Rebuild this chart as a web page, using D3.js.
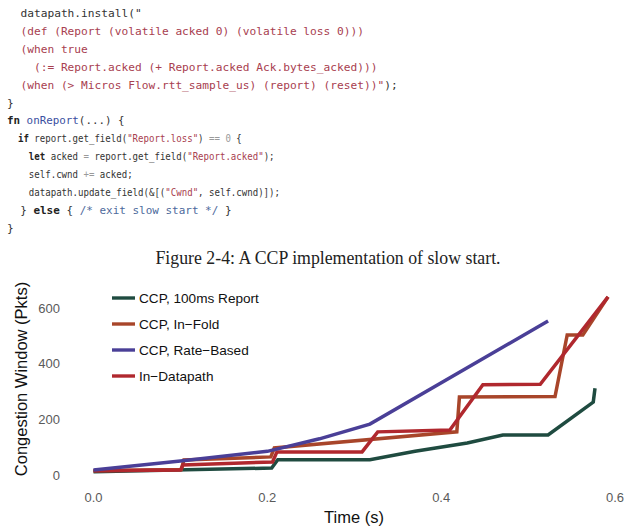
<!DOCTYPE html>
<html>
<head>
<meta charset="utf-8">
<script src="https://cdn.jsdelivr.net/npm/d3@7/dist/d3.min.js"></script>
<style>
  body { margin: 0; background: #fff; }
  svg { display: block; }
  .code text { font-family: "DejaVu Sans Mono", monospace; font-size: 11.2px; white-space: pre; }
  .tick-label { font-family: "Liberation Sans", Arial, sans-serif; font-size: 13px; fill: #5a5a5a; }
</style>
</head>
<body>
<script>
// code listing above the figure, tokens tagged by highlight class
const codeLines = [
    [["  datapath.install(", "n"], ["\"", "n"]],
    [["  (def (Report (volatile acked 0) (volatile loss 0)))", "s"]],
    [["  (when true", "s"]],
    [["    (:= Report.acked (+ Report.acked Ack.bytes_acked)))", "s"]],
    [["  (when (> Micros Flow.rtt_sample_us) (report) (reset))\"", "s"], [");", "n"]],
    [["}", "n"]],
    [["fn", "k"], [" ", "n"], ["onReport", "f"], ["(...) {", "n"]],
    [["  ", "n"], ["if", "k"], [" report.get_field(", "n"], ["\"Report.loss\"", "s"], [") ", "n"], ["==", "o"], [" ", "n"], ["0", "o"], [" {", "n"]],
    [["    ", "n"], ["let", "k"], [" acked ", "n"], ["=", "o"], [" report.get_field(", "n"], ["\"Report.acked\"", "s"], [");", "n"]],
    [["    self.cwnd ", "n"], ["+=", "o"], [" acked;", "n"]],
    [["    datapath.update_field(&[(", "n"], ["\"Cwnd\"", "s"], [", self.cwnd)]);", "n"]],
    [["  } ", "n"], ["else", "k"], [" { ", "n"], ["/* exit slow start */", "c"], [" }", "n"]],
    [["}", "n"]]
];
const codeScale = [1, 1, 1, 1, 1, 1, 0.97, 0.81, 0.81, 0.81, 0.81, 0.98, 1];
const caption = "Figure 2-4: A CCP implementation of slow start.";

// chart data (time in s, cwnd in packets)
const seriesNames = ["CCP, 100ms Report", "CCP, In\u2212Fold", "CCP, Rate\u2212Based", "In\u2212Datapath"];

const reportT = [0, 0.205, 0.212, 0.318, 0.37, 0.43, 0.471, 0.523, 0.575, 0.577];
const reportV = [12, 25, 55, 55, 85, 115, 144, 144, 262, 312];

const inFoldT = [0, 0.101, 0.104, 0.204, 0.208, 0.418, 0.421, 0.531, 0.545, 0.563, 0.592];
const inFoldV = [15, 20, 54, 65, 97, 155, 280, 282, 503, 503, 640];

const rateT = [0, 0.1, 0.2, 0.26, 0.318, 0.523];
const rateV = [18, 50, 85, 130, 183, 553];

const datapathT = [0, 0.1, 0.103, 0.206, 0.211, 0.309, 0.327, 0.41, 0.448, 0.514, 0.592];
const datapathV = [15, 18, 36, 47, 83, 83, 155, 162, 324, 326, 640];

const xTicks = [0.0, 0.2, 0.4, 0.6];
const yTicks = [0, 200, 400, 600];

const W = 633, H = 527;

const svg = d3.select("body").append("svg")
    .attr("width", W)
    .attr("height", H);

svg.append("rect").attr("width", W).attr("height", H).attr("fill", "#fff");

// ---- code block ----
const tokenColor = { n: "#333", k: "#222", s: "#a8404f", f: "#3a4f9f", c: "#4d6a9c", o: "#9a9a9a" };

const code = svg.append("g").attr("class", "code");
codeLines.forEach((line, i) => {
    const t = code.append("text")
        .attr("transform", `translate(7,${17 + i * 17.9}) scale(${codeScale[i]},1)`)
        .attr("xml:space", "preserve");
    line.forEach(([txt, cls]) => {
        t.append("tspan")
            .attr("fill", tokenColor[cls])
            .attr("font-weight", cls === "k" ? "bold" : null)
            .text(txt);
    });
});

svg.append("text")
    .attr("x", 328)
    .attr("y", 264)
    .attr("text-anchor", "middle")
    .style("font-family", "'Liberation Serif', 'Times New Roman', serif")
    .style("font-size", "17.8px")
    .attr("fill", "#222")
    .text(caption);

// ---- chart ----
const x = d3.scaleLinear().domain([0, 0.6]).range([93.5, 615]);
const y = d3.scaleLinear().domain([0, 600]).range([475, 308]);

svg.append("g").selectAll("text")
    .data(xTicks)
    .enter().append("text")
    .attr("class", "tick-label")
    .attr("x", d => x(d))
    .attr("y", 502)
    .attr("text-anchor", "middle")
    .text(d3.format(".1f"));

svg.append("g").selectAll("text")
    .data(yTicks)
    .enter().append("text")
    .attr("class", "tick-label")
    .attr("x", 60)
    .attr("y", d => y(d) + 4.5)
    .attr("text-anchor", "end")
    .text(d => d);

svg.append("text")
    .attr("x", 354)
    .attr("y", 523)
    .attr("text-anchor", "middle")
    .style("font-family", "'Liberation Sans', Arial, sans-serif")
    .style("font-size", "16.5px")
    .attr("fill", "#111")
    .text("Time (s)");

svg.append("text")
    .attr("transform", "translate(27,379) rotate(-90)")
    .attr("text-anchor", "middle")
    .style("font-family", "'Liberation Sans', Arial, sans-serif")
    .style("font-size", "16.5px")
    .attr("fill", "#111")
    .text("Congestion Window (Pkts)");

const series = [
    { name: seriesNames[0], color: "#1f4b40", pts: d3.zip(reportT, reportV) },
    { name: seriesNames[1], color: "#a8452a", pts: d3.zip(inFoldT, inFoldV) },
    { name: seriesNames[2], color: "#4a3f97", pts: d3.zip(rateT, rateV) },
    { name: seriesNames[3], color: "#b0282e", pts: d3.zip(datapathT, datapathV) }
];

const line = d3.line()
    .x(d => x(d[0]))
    .y(d => y(d[1]));

// draw order: green, in-fold, in-datapath, rate-based on top
[0, 1, 3, 2].forEach(i => {
    svg.append("path")
        .datum(series[i].pts)
        .attr("d", line)
        .attr("fill", "none")
        .attr("stroke", series[i].color)
        .attr("stroke-width", 3.5)
        .attr("stroke-linejoin", "miter")
        .attr("stroke-linecap", "butt");
});

// legend
const legend = svg.append("g").attr("transform", "translate(112,298)");
series.forEach((s, i) => {
    const row = legend.append("g").attr("transform", `translate(0,${i * 26})`);
    row.append("line")
        .attr("x1", 0).attr("x2", 23)
        .attr("stroke", s.color)
        .attr("stroke-width", 3.4);
    row.append("text")
        .attr("x", 27)
        .attr("y", 5)
        .style("font-family", "'Liberation Sans', Arial, sans-serif")
        .style("font-size", "13.6px")
        .attr("fill", "#111")
        .text(s.name);
});
</script>
</body>
</html>
